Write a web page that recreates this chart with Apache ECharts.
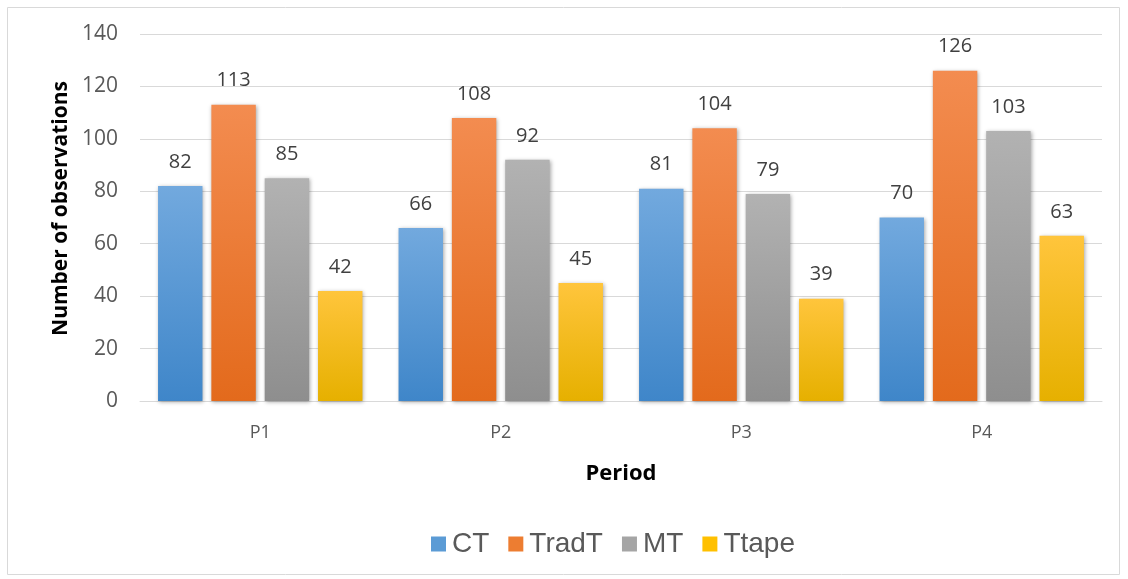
<!DOCTYPE html>
<html><head><meta charset="utf-8">
<script src="https://cdn.jsdelivr.net/npm/echarts@6/dist/echarts.min.js"></script>
<style>html,body{margin:0;padding:0;background:#fff}#c{width:1128px;height:579px}</style>
</head><body><div id="c"></div>
<script>
const categories = ['P1','P2','P3','P4'];
const seriesNames = ['CT','TradT','MT','Ttape'];
const CT = [82,66,81,70];
const TradT = [113,108,104,126];
const MT = [85,92,79,103];
const Ttape = [42,45,39,63];
const yTicks = {min:0, max:140, interval:20};

const grads = [
  ['#72a9de','#3f86c9'],
  ['#f38c50','#e36a1c'],
  ['#b2b2b2','#8e8e8e'],
  ['#ffc53c','#e6b000']
];
const legendColors = ['#5b9bd5','#ed7d31','#a5a5a5','#ffc000'];
const values = [CT,TradT,MT,Ttape];
function grad(i){return new echarts.graphic.LinearGradient(0,0,0,1,[{offset:0,color:grads[i][0]},{offset:1,color:grads[i][1]}]);}

const chart = echarts.init(document.getElementById('c'));
chart.setOption({
  animation:false,
  graphic:[{type:'rect',shape:{x:7.5,y:7.5,width:1112,height:567},style:{fill:'none',stroke:'#d9d9d9',lineWidth:1},silent:true}],
  legend:{
    bottom:16, left:426, itemWidth:15, itemHeight:15, itemGap:19,
    icon:'rect',
    textStyle:{fontFamily:'Liberation Sans', fontSize:28, color:'#595959', padding:[0,0,0,1]},
    data: seriesNames.map((n,i)=>({name:n, itemStyle:{color:legendColors[i]}}))
  },
  grid:{left:140, right:26, top:34, bottom:178, containLabel:false},
  xAxis:{
    type:'category', data:categories,
    axisLine:{lineStyle:{color:'#d9d9d9', width:1}},
    axisTick:{show:false},
    axisLabel:{fontFamily:'Open Sans', fontSize:18, color:'#595959', margin:23},
    name:'Period', nameLocation:'middle', nameGap:62,
    nameTextStyle:{fontFamily:'Open Sans', fontWeight:'bold', fontSize:22, color:'#000'}
  },
  yAxis:{
    type:'value', min:yTicks.min, max:yTicks.max, interval:yTicks.interval,
    axisLine:{show:false}, axisTick:{show:false},
    splitLine:{lineStyle:{color:'#d9d9d9', width:1}},
    axisLabel:{fontFamily:'Open Sans', fontSize:21, color:'#595959', margin:22},
    name:'Number of observations', nameLocation:'middle', nameGap:62, nameRotate:90,
    nameTextStyle:{fontFamily:'Open Sans', fontWeight:'bold', fontSize:21, color:'#000', padding:[0,0,0,18]}
  },
  series: seriesNames.map((n,i)=>({
    name:n, type:'bar', data:values[i],
    barGap:'20%', barCategoryGap:'15%',
    itemStyle:{color:grad(i), shadowColor:'rgba(0,0,0,0.35)', shadowBlur:4, shadowOffsetX:1, shadowOffsetY:1},
    label:{show:true, position:'top', distance:14, fontFamily:'Open Sans', fontSize:20, color:'#404040'}
  }))
});
</script></body></html>
